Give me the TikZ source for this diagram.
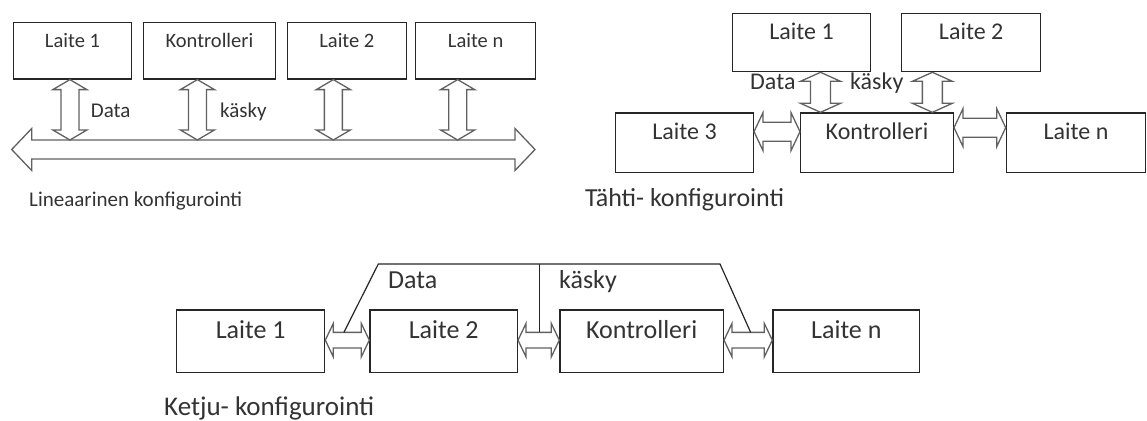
\documentclass[tikz,border=0pt]{standalone}
\usepackage{fontspec}
\setmainfont{Carlito}
\usetikzlibrary{calc}

% outlined two-headed block arrow between two named points
% #1 start, #2 end, #3 half shaft width, #4 half head width, #5 head length
\newcommand\twoheaded[5]{%
  \path ($(#1)!#5!(#2)$) coordinate (tw-a) ($(#2)!#5!(#1)$) coordinate (tw-b);
  \draw[blockarrow] (#1) -- ($(tw-a)!#4!90:(#2)$) -- ($(tw-a)!#3!90:(#2)$)
    -- ($(tw-b)!#3!-90:(#1)$) -- ($(tw-b)!#4!-90:(#1)$) -- (#2)
    -- ($(tw-b)!#4!90:(#1)$) -- ($(tw-b)!#3!90:(#1)$)
    -- ($(tw-a)!#3!-90:(#2)$) -- ($(tw-a)!#4!-90:(#2)$) -- cycle;
}

\tikzset{
  box/.style={draw=black!85, line width=1.3pt, rectangle, inner sep=0pt,
    anchor=north west, text=black!80},
  linbox/.style={box, minimum height=56.6pt, text height=25pt, text depth=31.6pt,
    font=\fontsize{20.5}{24}\selectfont},
  starbox/.style={box, text height=26.6pt, font=\fontsize{24}{28}\selectfont},
  chainbox/.style={box, minimum height=62.4pt, text height=28.4pt, text depth=34pt,
    font=\fontsize{26}{30}\selectfont},
  blockarrow/.style={draw=black!62, line width=1.3pt, fill=white, line join=miter},
  wire/.style={draw=black!85, line width=1.2pt},
  tag/.style={anchor=base west, inner sep=0pt, text=black!80},
}

\begin{document}
\begin{tikzpicture}[x=1pt, y=-1pt]
\useasboundingbox (0,0) rectangle (1147,420);

% ---------------- linear configuration ----------------
\node[linbox, minimum width=118.3pt] (l1) at (12.7,21.7) {Laite 1};
\node[linbox, minimum width=132.1pt] (lk) at (142.7,21.7) {Kontrolleri};
\node[linbox, minimum width=119pt]   (l2) at (286.7,21.7) {Laite 2};
\node[linbox, minimum width=120pt]   (ln) at (415,21.7) {Laite n};

\coordinate (busL) at (11.7,149.5);
\coordinate (busR) at (535,149.5);
\coordinate (bustop) at (0,140);
\twoheaded{busL}{busR}{9.5pt}{21pt}{20pt}

\coordinate (la1) at ([xshift=-2.6pt]l1.south);  \coordinate (lb1) at (la1 |- bustop);
\coordinate (la2) at ([xshift=-12pt]lk.south);   \coordinate (lb2) at (la2 |- bustop);
\coordinate (la3) at ([xshift=-13.5pt]l2.south); \coordinate (lb3) at (la3 |- bustop);
\coordinate (la4) at ([xshift=-18pt]ln.south);   \coordinate (lb4) at (la4 |- bustop);
\twoheaded{la1}{lb1}{9pt}{17pt}{10pt}
\twoheaded{la2}{lb2}{9pt}{17pt}{10pt}
\twoheaded{la3}{lb3}{9pt}{17pt}{10pt}
\twoheaded{la4}{lb4}{9pt}{17pt}{10pt}

\node[tag, font=\fontsize{21}{25}\selectfont] (ldata) at (90.7,117.3) {Data};
\node[tag, font=\fontsize{21}{25}\selectfont] (lcmd) at (220,117.3) {käsky};
\node[tag, font=\fontsize{21}{25}\selectfont] (ltitle) at (29,206.7) {Lineaarinen konfigurointi};

% ---------------- star configuration ----------------
\node[starbox, minimum width=138.3pt, minimum height=58.3pt, text depth=31.7pt] (s1) at (731.7,12.7) {Laite 1};
\node[starbox, minimum width=139pt,   minimum height=58.3pt, text depth=31.7pt] (s2) at (901,12.7) {Laite 2};
\node[starbox, minimum width=137.7pt, minimum height=59.4pt, text depth=32.8pt] (s3) at (615,112.3) {Laite 3};
\node[starbox, minimum width=152.7pt, minimum height=59.4pt, text depth=32.8pt] (sk) at (800,112.3) {Kontrolleri};
\node[starbox, minimum width=139.3pt, minimum height=59.4pt, text depth=32.8pt] (sn) at (1005.7,112.3) {Laite n};

\coordinate (sa1) at ([xshift=19pt]s1.south);   \coordinate (sb1) at (sa1 |- sk.north);
\coordinate (sa2) at ([xshift=-38.8pt]s2.south); \coordinate (sb2) at (sa2 |- sk.north);
\twoheaded{sa1}{sb1}{10pt}{20pt}{9pt}
\twoheaded{sa2}{sb2}{10pt}{20pt}{9pt}

\coordinate (sc1) at ([yshift=11pt]s3.east); \coordinate (sd1) at (sc1 -| sk.west);
\coordinate (sc2) at ([yshift=15pt]sk.east); \coordinate (sd2) at (sc2 -| sn.west);
\twoheaded{sc1}{sd1}{9.5pt}{19pt}{9pt}
\twoheaded{sc2}{sd2}{9.5pt}{19pt}{9pt}

\node[tag, font=\fontsize{24}{28}\selectfont] (sdata) at (750,89.3) {Data};
\node[tag, font=\fontsize{24}{28}\selectfont] (scmd) at (850,89.3) {käsky};
\node[tag, font=\fontsize{26}{30}\selectfont] (stitle) at (585,206.7) {Tähti- konfigurointi};

% ---------------- chain configuration ----------------
\node[chainbox, minimum width=148pt]   (k1) at (176,309.3) {Laite 1};
\node[chainbox, minimum width=147.4pt] (k2) at (369.3,309.3) {Laite 2};
\node[chainbox, minimum width=163.4pt] (kk) at (559.3,309.3) {Kontrolleri};
\node[chainbox, minimum width=146.7pt] (kn) at (772.3,309.3) {Laite n};

\coordinate (kc1) at ([yshift=1pt]k1.east); \coordinate (kd1) at (kc1 -| k2.west);
\coordinate (kc2) at ([yshift=1pt]k2.east); \coordinate (kd2) at (kc2 -| kk.west);
\coordinate (kc3) at ([yshift=1pt]kk.east); \coordinate (kd3) at (kc3 -| kn.west);
\twoheaded{kc1}{kd1}{7.8pt}{16.7pt}{8pt}
\twoheaded{kc2}{kd2}{7.8pt}{16.7pt}{8pt}
\twoheaded{kc3}{kd3}{7.8pt}{16.7pt}{8pt}

% shared wires landing on the shaft tops
\coordinate (w1) at ([xshift=-3.4pt,yshift=7.8pt]$(kc1)!0.5!(kd1)$);
\coordinate (w2) at ([xshift=1pt,yshift=7.8pt]$(kc2)!0.5!(kd2)$);
\coordinate (w3) at ([xshift=2.5pt,yshift=7.8pt]$(kc3)!0.5!(kd3)$);
\coordinate (wa) at (378.3,264);
\coordinate (wb) at (720,264);
\draw[wire] (w1) -- (wa) -- (wb) -- (w3);
\draw[wire] (w2) -- (w2 |- wa);

\node[tag, font=\fontsize{26}{30}\selectfont] (kdata) at (388,288.3) {Data};
\node[tag, font=\fontsize{26}{30}\selectfont] (kcmd) at (559,288.3) {käsky};
\node[tag, font=\fontsize{27}{31}\selectfont] (ktitle) at (164,415) {Ketju- konfigurointi};
\end{tikzpicture}
\end{document}
